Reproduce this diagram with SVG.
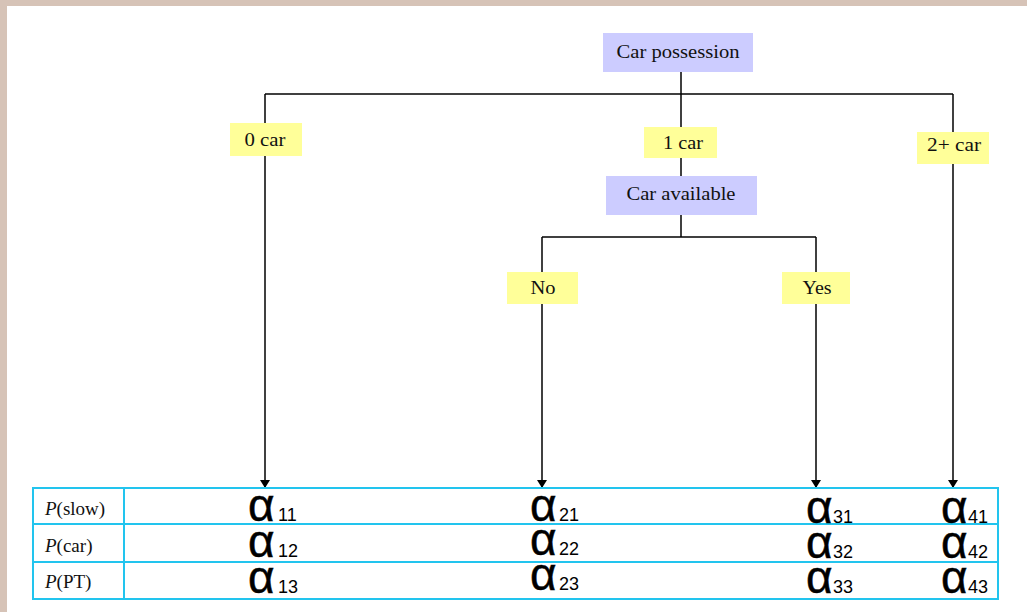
<svg xmlns="http://www.w3.org/2000/svg" width="1027" height="612" viewBox="0 0 1027 612">
  <style>
    .edge { stroke: #000; stroke-width: 1.5; fill: none; }
    .decision { fill: #ccccff; }
    .branch { fill: #ffff99; }
    .lbl { font-family: "Liberation Serif", "Times New Roman", serif; font-size: 18px; fill: #111; text-anchor: middle; }
    .grid { fill: none; stroke: #22c4ee; stroke-width: 2; }
    .row { font-family: "Liberation Serif", "Times New Roman", serif; font-size: 19px; fill: #111; }
    .alpha { font-family: "Liberation Sans", Arial, sans-serif; font-size: 46px; fill: #000; stroke: #000; stroke-width: 0.5; }
    .sub { font-family: "Liberation Sans", Arial, sans-serif; font-size: 18px; fill: #000; }
  </style>
  <defs>
    <marker id="arrow" viewBox="0 0 8 10" refX="8" refY="5" markerWidth="8" markerHeight="10" markerUnits="userSpaceOnUse" orient="auto">
      <path d="M0,0 L8,5 L0,10 Z" fill="#000"/>
    </marker>
  </defs>

  <!-- page frame -->
  <rect x="0" y="0" width="1027" height="612" fill="#d6c3b7"/>
  <rect x="7" y="6" width="1020" height="606" fill="#fff"/>

  <!-- connectors -->
  <g id="connectors">
    <path class="edge" d="M681,72 V94"/>
    <path class="edge" d="M265,94 H953"/>
    <path class="edge" d="M681,94 V176"/>
    <path class="edge" d="M265,94 V488" marker-end="url(#arrow)"/>
    <path class="edge" d="M953,94 V488" marker-end="url(#arrow)"/>
    <path class="edge" d="M681,215 V237"/>
    <path class="edge" d="M542,237 H816"/>
    <path class="edge" d="M542,237 V488" marker-end="url(#arrow)"/>
    <path class="edge" d="M816,237 V488" marker-end="url(#arrow)"/>
  </g>

  <!-- nodes -->
  <g id="car-possession">
    <rect class="decision" x="603" y="33" width="150" height="39"/>
    <text class="lbl" x="678" y="58" textLength="123" lengthAdjust="spacingAndGlyphs">Car possession</text>
  </g>
  <g id="zero-car">
    <rect class="branch" x="230" y="123" width="72" height="33"/>
    <text class="lbl" x="265" y="146" textLength="41" lengthAdjust="spacingAndGlyphs">0 car</text>
  </g>
  <g id="one-car">
    <rect class="branch" x="644" y="127" width="73" height="31"/>
    <text class="lbl" x="683" y="149" textLength="40" lengthAdjust="spacingAndGlyphs">1 car</text>
  </g>
  <g id="two-plus-car">
    <rect class="branch" x="917" y="132" width="72" height="32"/>
    <text class="lbl" x="954" y="151" textLength="54" lengthAdjust="spacingAndGlyphs">2+ car</text>
  </g>
  <g id="car-available">
    <rect class="decision" x="606" y="176" width="151" height="39"/>
    <text class="lbl" x="681" y="200" textLength="109" lengthAdjust="spacingAndGlyphs">Car available</text>
  </g>
  <g id="no">
    <rect class="branch" x="507" y="272" width="71" height="32"/>
    <text class="lbl" x="543" y="294" textLength="25" lengthAdjust="spacingAndGlyphs">No</text>
  </g>
  <g id="yes">
    <rect class="branch" x="782" y="272" width="68" height="32"/>
    <text class="lbl" x="817" y="294" textLength="29" lengthAdjust="spacingAndGlyphs">Yes</text>
  </g>

  <!-- probability table -->
  <g id="table">
    <rect class="grid" x="33" y="488" width="965" height="111"/>
    <path class="grid" d="M33,524 H998 M33,562 H998 M124,488 V599"/>
    <text class="row" x="45" y="515"><tspan font-style="italic">P</tspan>(slow)</text>
    <text class="row" x="45" y="552"><tspan font-style="italic">P</tspan>(car)</text>
    <text class="row" x="45" y="588"><tspan font-style="italic">P</tspan>(PT)</text>

    <!-- alpha coefficients: glyph and index as separate texts -->
    <text class="alpha" x="248" y="521">α</text><text class="sub" x="278" y="521">11</text>
    <text class="alpha" x="248" y="557">α</text><text class="sub" x="278" y="557">12</text>
    <text class="alpha" x="248" y="593">α</text><text class="sub" x="278" y="593">13</text>

    <text class="alpha" x="530" y="521">α</text><text class="sub" x="559" y="521">21</text>
    <text class="alpha" x="530" y="555">α</text><text class="sub" x="559" y="555">22</text>
    <text class="alpha" x="530" y="590">α</text><text class="sub" x="559" y="590">23</text>

    <text class="alpha" x="806" y="523">α</text><text class="sub" x="833" y="523">31</text>
    <text class="alpha" x="806" y="558">α</text><text class="sub" x="833" y="558">32</text>
    <text class="alpha" x="806" y="593">α</text><text class="sub" x="833" y="593">33</text>

    <text class="alpha" x="941" y="523">α</text><text class="sub" x="968" y="523">41</text>
    <text class="alpha" x="941" y="558">α</text><text class="sub" x="968" y="558">42</text>
    <text class="alpha" x="941" y="593">α</text><text class="sub" x="968" y="593">43</text>
  </g>
</svg>
